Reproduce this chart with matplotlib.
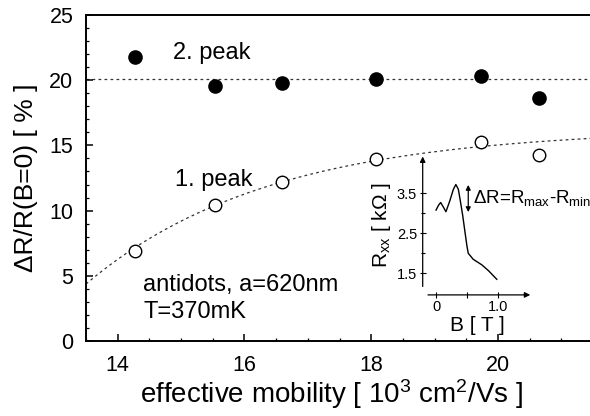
import numpy as np
import matplotlib
matplotlib.use("Agg")
import matplotlib.pyplot as plt

plt.rcParams['font.family'] = ['Liberation Sans', 'DejaVu Sans']
plt.rcParams['mathtext.fontset'] = 'custom'
plt.rcParams['mathtext.rm'] = 'Liberation Sans'
plt.rcParams['mathtext.it'] = 'Liberation Sans:italic'

# ---- data ----
mobility = [14.28, 15.53, 16.59, 18.07, 19.73, 20.64]
peak2 = [21.8, 19.55, 19.8, 20.1, 20.3, 18.6]
peak1 = [6.93, 10.45, 12.2, 13.93, 15.28, 14.26]
peak2_level = 20.1
# saturating fit of the 1. peak: ymax*(1-exp(-(x-x0)/tau))
fit_ymax, fit_x0, fit_tau = 16.3, 12.596, 2.896

x_ticks = [14, 16, 18, 20]
y_ticks = [0, 5, 10, 15, 20, 25]

# inset trace
inset_B = [0.0, 0.04, 0.075, 0.12, 0.16, 0.22, 0.28, 0.32, 0.36, 0.39, 0.43, 0.47,
           0.50, 0.52, 0.60, 0.74, 0.85, 0.98]
inset_R = [3.08, 3.2, 3.27, 3.15, 3.04, 3.3, 3.6, 3.72, 3.6, 3.33, 2.95, 2.5,
           2.17, 2.0, 1.85, 1.71, 1.56, 1.35]
inset_yticks = [1.5, 2.5, 3.5]
inset_xticks = [0, 0.5, 1.0]

W, H = 590, 416
fig = plt.figure(figsize=(W / 100, H / 100), dpi=100)
ax = fig.add_axes([86 / W, (H - 341) / H, (W - 86) / W + 0.02, 326 / H])
ax.set_xlim(13.5, 21.45 + 0.02 * W / 63.4)
ax.set_ylim(0, 25)

dash = (0, (2.2, 2.6))
ax.axhline(peak2_level, color='#333333', lw=0.9, ls=dash, zorder=1)
xf = np.linspace(13.5, 22.0, 200)
ax.plot(xf, fit_ymax * (1 - np.exp(-(xf - fit_x0) / fit_tau)), color='#333333',
        lw=0.9, ls=dash, zorder=1)

ax.plot(mobility, peak2, 'o', ms=9.5, color='black', zorder=3)
ax.plot(mobility, peak1, 'o', ms=9, mfc='white', mec='black', mew=1.0, zorder=3)

ax.set_xticks(x_ticks)
ax.set_yticks(y_ticks)
ax.set_xticks(np.arange(13.5, 21.6, 0.5), minor=True)
ax.set_yticks(np.arange(0, 26, 1), minor=True)
ax.tick_params(which='major', direction='in', length=5, width=1.1, labelsize=15.5,
               top=False, right=False)
ax.tick_params(which='minor', direction='in', length=2.5, width=0.9, top=False, right=False)
ax.tick_params(axis='y', pad=9)
ax.tick_params(axis='x', pad=10)
for s in ['left', 'bottom', 'top']:
    ax.spines[s].set_linewidth(1.4)
ax.spines['right'].set_visible(False)

ax.set_xlabel('effective mobility [ 10$^{3}$ cm$^{2}$/Vs ]', fontsize=20, labelpad=1)
ax.xaxis.label.set_x(0.475)
ax.set_ylabel('ΔR/R(B=0) [ % ]', fontsize=19, labelpad=8)

ax.text(14.87, 22.1, '2. peak', fontsize=17, ha='left', va='center')
ax.text(14.9, 12.35, '1. peak', fontsize=17, ha='left', va='center')
ax.text(14.4, 4.3, 'antidots, a=620nm', fontsize=17, ha='left', va='center')
ax.text(14.4, 2.2, 'T=370mK', fontsize=17, ha='left', va='center')

# ---- inset ----
ix0, ix1 = 422.7, 532.1
iy0, iy1 = 294.9, 155.3
axi = fig.add_axes([ix0 / W, (H - iy0) / H, (ix1 - ix0) / W, (iy0 - iy1) / H])
axi.set_xlim(-0.215, 1.55)
axi.set_ylim(0.96, 4.45)
axi.patch.set_alpha(0)
for s in axi.spines.values():
    s.set_visible(False)
axi.plot(inset_B, inset_R, color='black', lw=1.0)
axi.annotate('', xy=(-0.215, 4.42), xytext=(-0.215, 1.17),
             arrowprops=dict(arrowstyle='-|>', color='black', lw=0.9,
                             mutation_scale=8, shrinkA=0, shrinkB=0))
axi.annotate('', xy=(1.52, 0.96), xytext=(-0.13, 0.96),
             arrowprops=dict(arrowstyle='-|>', color='black', lw=0.9,
                             mutation_scale=8, shrinkA=0, shrinkB=0))
axi.set_yticks(inset_yticks)
axi.set_yticks([2.0, 3.0], minor=True)
axi.set_xticks(inset_xticks)
axi.set_xticklabels(['0', '', '1.0'])
axi.tick_params(which='both', direction='inout', length=4, width=0.8, labelsize=10.5, pad=2)
axi.tick_params(which='minor', length=3)
axi.set_ylabel('R$_{\\mathrm{xx}}$ [ kΩ ]', fontsize=15, labelpad=3)
axi.set_xlabel('B [ T ]', fontsize=15, labelpad=1)
axi.annotate('', xy=(0.52, 3.71), xytext=(0.52, 3.03),
             arrowprops=dict(arrowstyle='<|-|>', color='black', lw=0.9,
                             mutation_scale=7, shrinkA=0, shrinkB=0))
axi.text(0.6, 3.37, 'ΔR=R$_{\\mathrm{max}}$-R$_{\\mathrm{min}}$', fontsize=13.5,
         ha='left', va='center')

fig.savefig('out.png', dpi=100)
